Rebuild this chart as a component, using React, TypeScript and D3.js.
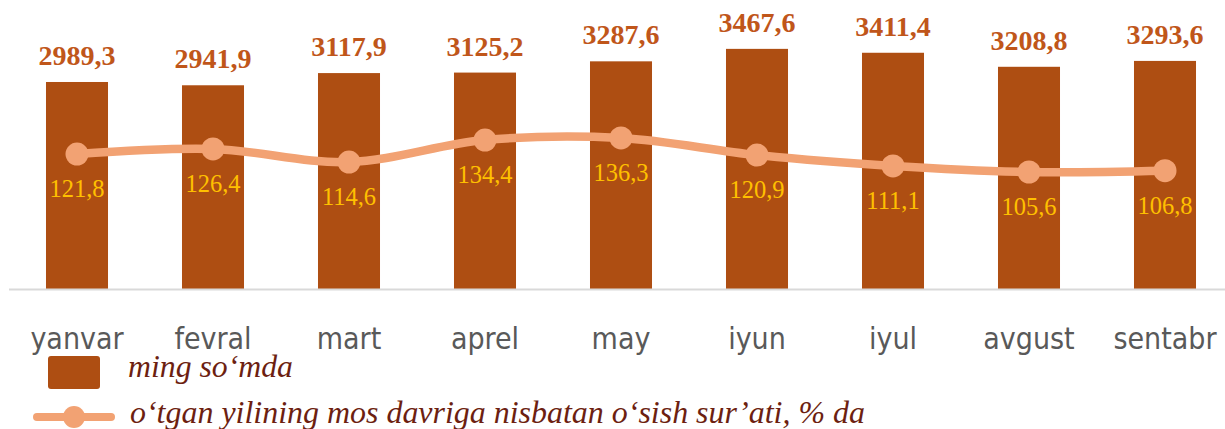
import React from "react";
import * as d3 from "d3";

const categories = ["yanvar", "fevral", "mart", "aprel", "may", "iyun", "iyul", "avgust", "sentabr"];
const wageValues = [2989.3, 2941.9, 3117.9, 3125.2, 3287.6, 3467.6, 3411.4, 3208.8, 3293.6];
const growthValues = [121.8, 126.4, 114.6, 134.4, 136.3, 120.9, 111.1, 105.6, 106.8];
const barLegend = "ming so‘mda";
const lineLegend = "o‘tgan yilining mos davriga nisbatan o‘sish sur’ati, % da";

const W = 1225;
const H = 429;
const BAR = "#AE4E12";
const BAR_LABEL = "#C0561A";
const LINE = "#F2A273";
const LINE_LABEL = "#FFC000";
const AXIS_TEXT = "#595959";
const LEGEND_TEXT = "#6D1F11";

const fmt = (v: number) => v.toFixed(1).replace(".", ",");

export default function App() {
  const x = d3.scaleBand<string>().domain(categories).range([9, 1233]).paddingInner(0.544).paddingOuter(0.272);
  const y = d3.scaleLinear().domain([0, 4000]).range([289, 12]);
  const y2 = d3.scaleLinear().domain([0, 250]).range([289, 12]);
  const cx = (c: string) => (x(c) as number) + x.bandwidth() / 2;

  const pts: [number, number][] = categories.map((c, i) => [cx(c), y2(growthValues[i])]);
  const linePath = d3.line().curve(d3.curveCardinal.tension(0))(pts) || "";

  return (
    <svg width={W} height={H} style={{ position: "absolute", left: 0, top: 0, background: "#fff" }}>
      {categories.map((c, i) => (
        <rect key={c} x={x(c)} y={y(wageValues[i])} width={x.bandwidth()} height={y(0) - y(wageValues[i])} fill={BAR} />
      ))}
      <line x1={9} x2={W} y1={289.5} y2={289.5} stroke="#D9D9D9" strokeWidth={2} />
      {categories.map((c, i) => (
        <text key={"bl" + c} x={cx(c)} y={y(wageValues[i]) - 17} textAnchor="middle"
          fontFamily="'Liberation Serif', serif" fontWeight="bold" fontSize={28} fill={BAR_LABEL}>
          {fmt(wageValues[i])}
        </text>
      ))}
      <path d={linePath} fill="none" stroke={LINE} strokeWidth={8.5} strokeLinecap="round" />
      {pts.map((p, i) => (
        <circle key={"pt" + i} cx={p[0]} cy={p[1]} r={11.5} fill={LINE} />
      ))}
      {categories.map((c, i) => (
        <text key={"ll" + c} x={cx(c)} y={y2(growthValues[i]) + 43} textAnchor="middle"
          fontFamily="'Liberation Serif', serif" fontSize={24.5} fill={LINE_LABEL}>
          {fmt(growthValues[i])}
        </text>
      ))}
      {categories.map((c) => (
        <text key={"cat" + c} x={cx(c)} y={349} textAnchor="middle"
          fontFamily="'DejaVu Sans Condensed', 'DejaVu Sans', sans-serif" fontStretch="condensed" fontSize={30} fill={AXIS_TEXT}>
          {c}
        </text>
      ))}
      <rect x={48} y={356} width={52} height={33} rx={3} fill={BAR} />
      <text x={128} y={377} fontFamily="'Liberation Serif', serif" fontStyle="italic" fontSize={31} fill={LEGEND_TEXT}
        textLength={165} lengthAdjust="spacingAndGlyphs">
        {barLegend}
      </text>
      <line x1={37} x2={111} y1={417} y2={417} stroke={LINE} strokeWidth={8} strokeLinecap="round" />
      <circle cx={74} cy={417} r={11} fill={LINE} />
      <text x={130} y={423} fontFamily="'Liberation Serif', serif" fontStyle="italic" fontSize={31} fill={LEGEND_TEXT}
        textLength={735} lengthAdjust="spacingAndGlyphs">
        {lineLegend}
      </text>
    </svg>
  );
}
